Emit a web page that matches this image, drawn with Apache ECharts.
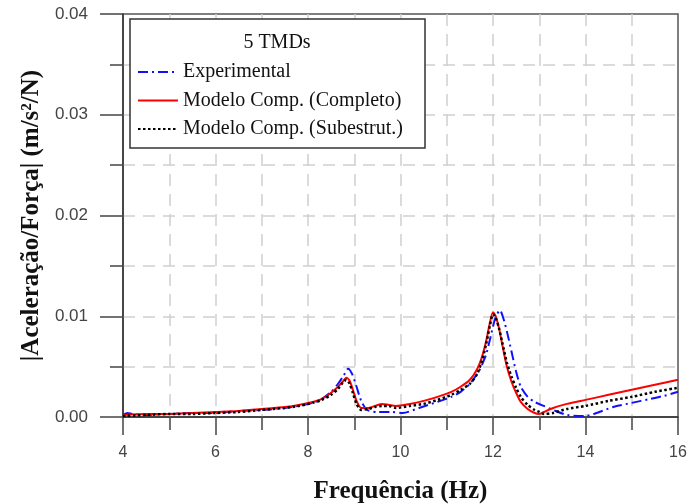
<!DOCTYPE html>
<html>
<head>
<meta charset="utf-8">
<script src="https://cdn.jsdelivr.net/npm/echarts@6/dist/echarts.min.js"></script>
<style>
  html, body { margin: 0; padding: 0; background: #fff; }
  #chart { width: 687px; height: 504px; }
</style>
</head>
<body>
<div id="chart"></div>
<script>
// frequency (Hz) / |acceleration/force|
const expFreq = [4.0, 4.1, 4.2, 4.5, 5.0, 5.5, 6.0, 6.5, 7.0, 7.5, 7.8, 8.1, 8.3, 8.5, 8.65, 8.77, 8.87, 8.95, 9.05, 9.15, 9.28, 9.5, 9.8, 10.05, 10.4, 10.8, 11.1, 11.3, 11.5, 11.7, 11.85, 11.95, 12.05, 12.15, 12.23, 12.3, 12.4, 12.5, 12.6, 12.75, 12.9, 13.1, 13.3, 13.6, 14.0, 14.3, 14.6, 15.0, 15.4, 15.7, 16.0];
const expVals = [0.0002, 0.0004, 0.0003, 0.0002, 0.0003, 0.0004, 0.0004, 0.0006, 0.0007, 0.0009, 0.0011, 0.0014, 0.0018, 0.0025, 0.0033, 0.0041, 0.0048, 0.0043, 0.0030, 0.0016, 0.0007, 0.0005, 0.0005, 0.0004, 0.0009, 0.0015, 0.0020, 0.0025, 0.0033, 0.0046, 0.0062, 0.0080, 0.0098, 0.0106, 0.0097, 0.0085, 0.0065, 0.0045, 0.0030, 0.0020, 0.0015, 0.0011, 0.0007, 0.0002, 0.0001, 0.0005, 0.0010, 0.0014, 0.0018, 0.0021, 0.0025];

const modFreq = [4.0, 4.5, 5.0, 5.5, 6.0, 6.5, 7.0, 7.5, 7.8, 8.1, 8.3, 8.5, 8.65, 8.75, 8.83, 8.9, 8.97, 9.05, 9.15, 9.3, 9.45, 9.6, 9.75, 9.9, 10.2, 10.5, 10.8, 11.1, 11.3, 11.5, 11.65, 11.75, 11.85, 11.93, 12.0, 12.06, 12.13, 12.2, 12.3, 12.4, 12.5, 12.6, 12.75, 12.9, 13.0, 13.1, 13.3, 13.6, 14.0, 14.5, 15.0, 15.5, 16.0];
const completoVals = [0.0002, 0.0003, 0.0003, 0.0004, 0.0005, 0.0006, 0.0008, 0.0010, 0.0012, 0.0015, 0.0018, 0.0024, 0.0030, 0.0035, 0.0039, 0.0036, 0.0027, 0.0016, 0.0009, 0.0009, 0.0011, 0.0013, 0.0012, 0.0011, 0.0013, 0.0016, 0.0020, 0.0025, 0.0030, 0.0037, 0.0047, 0.0058, 0.0075, 0.0093, 0.0104, 0.0100, 0.0088, 0.0072, 0.0050, 0.0035, 0.0024, 0.0015, 0.0008, 0.0004, 0.0003, 0.0005, 0.0009, 0.0013, 0.0017, 0.0022, 0.0027, 0.0032, 0.0037];
const subestVals = [0.0001, 0.0002, 0.0003, 0.0003, 0.0004, 0.0005, 0.0007, 0.0009, 0.0011, 0.0014, 0.0017, 0.0022, 0.0028, 0.0034, 0.0037, 0.0033, 0.0024, 0.0013, 0.0007, 0.0008, 0.0010, 0.0011, 0.0011, 0.0009, 0.0011, 0.0013, 0.0017, 0.0022, 0.0027, 0.0033, 0.0042, 0.0054, 0.0072, 0.0090, 0.0102, 0.0098, 0.0088, 0.0074, 0.0054, 0.0040, 0.0029, 0.0020, 0.0012, 0.0007, 0.0005, 0.0003, 0.0004, 0.0008, 0.0011, 0.0016, 0.0020, 0.0025, 0.0029];

const seriesNames = ['Experimental', 'Modelo Comp. (Completo)', 'Modelo Comp. (Subestrut.)'];
const legendTitle = '5 TMDs';

const pairs = (xs, ys) => xs.map((x, i) => [x, ys[i]]);

const serif = 'Liberation Serif';
const sans = 'Liberation Sans';
const gridLine = { show: true, showMinLine: false, showMaxLine: false,
    lineStyle: { color: '#cfcfcf', width: 1.5, type: [12, 8] } };

const chart = echarts.init(document.getElementById('chart'));
chart.setOption({
    animation: false,
    grid: { left: 123, right: 9, top: 14, bottom: 87, outerBoundsMode: 'none',
            show: true, borderColor: '#555', borderWidth: 1.5 },
    xAxis: {
        type: 'value', min: 4, max: 16, interval: 2,
        name: 'Frequência (Hz)', nameLocation: 'middle', nameGap: 62,
        nameTextStyle: { fontFamily: serif, fontWeight: 'bold', fontSize: 25, color: '#111' },
        axisLine: { lineStyle: { color: '#333', width: 1.5 } },
        axisTick: { show: true, length: 18, lineStyle: { color: '#444', width: 1.5 } },
        minorTick: { show: true, splitNumber: 2, length: 13, lineStyle: { color: '#444', width: 1.5 } },
        splitLine: gridLine,
        minorSplitLine: gridLine,
        axisLabel: { margin: 28, fontFamily: sans, fontSize: 16, color: '#444' }
    },
    yAxis: {
        type: 'value', min: 0, max: 0.04, interval: 0.01,
        name: '|Aceleração/Força| (m/s²/N)', nameLocation: 'middle', nameGap: 77,
        nameTextStyle: { fontFamily: serif, fontWeight: 'bold', fontSize: 25, color: '#111' },
        axisLine: { show: true, lineStyle: { color: '#333', width: 1.5 } },
        axisTick: { show: true, length: 23, lineStyle: { color: '#444', width: 1.5 } },
        minorTick: { show: true, splitNumber: 2, length: 13, lineStyle: { color: '#444', width: 1.5 } },
        splitLine: gridLine,
        minorSplitLine: gridLine,
        axisLabel: { margin: 35, fontFamily: sans, fontSize: 17, color: '#444', formatter: v => v.toFixed(2) }
    },
    legend: {
        orient: 'vertical', left: 132, top: 57, z: 12,
        itemWidth: 40, itemHeight: 14, itemGap: 8.5,
        itemStyle: { opacity: 0, borderWidth: 0 },
        textStyle: { fontFamily: serif, fontSize: 20, color: '#111', lineHeight: 20 },
        data: seriesNames
    },
    graphic: [
        { type: 'rect', z: 10, shape: { x: 130, y: 19, width: 295, height: 129 },
          style: { fill: '#fff', stroke: '#333', lineWidth: 1.5 } },
        { type: 'text', z: 11, x: 277, y: 43,
          style: { text: legendTitle, font: '20px "Liberation Serif"', fill: '#111', align: 'center', verticalAlign: 'middle' } }
    ],
    series: [
        { name: seriesNames[0], type: 'line', symbol: 'none', smooth: 0.25, z: 2,
          data: pairs(expFreq, expVals),
          lineStyle: { color: '#1010ff', width: 2, type: [10, 4, 2, 4] }, itemStyle: { color: '#1010ff' } },
        { name: seriesNames[1], type: 'line', symbol: 'none', smooth: 0.25, z: 3,
          data: pairs(modFreq, completoVals),
          lineStyle: { color: '#ff0000', width: 2 }, itemStyle: { color: '#ff0000' } },
        { name: seriesNames[2], type: 'line', symbol: 'none', smooth: 0.25, z: 4,
          data: pairs(modFreq, subestVals),
          lineStyle: { color: '#000', width: 2.5, type: [2.5, 2.5] }, itemStyle: { color: '#000' } }
    ]
});
</script>
</body>
</html>
